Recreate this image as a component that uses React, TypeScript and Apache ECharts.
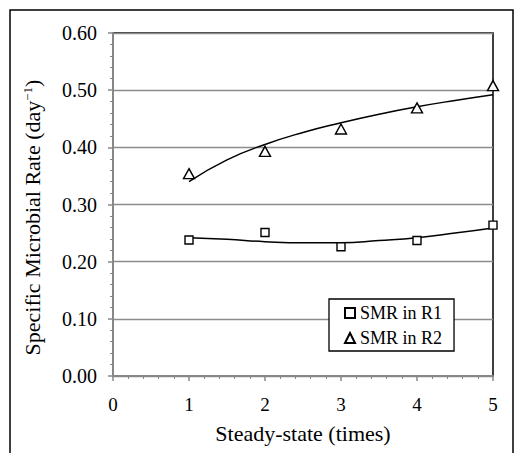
import React, { useEffect, useRef } from "react";
import * as echarts from "echarts";

const xPoints = [1, 2, 3, 4, 5];
const smrR1 = [0.238, 0.251, 0.226, 0.237, 0.264];
const smrR2 = [0.354, 0.393, 0.432, 0.469, 0.508];
const trendX = [1, 1.5, 2, 2.5, 3, 3.5, 4, 4.5, 5];
const trendR1 = [0.242, 0.239, 0.235, 0.233, 0.233, 0.237, 0.242, 0.25, 0.259];
const trendR2 = [0.34, 0.378, 0.405, 0.426, 0.443, 0.458, 0.471, 0.482, 0.492];
const seriesNames = ["SMR in R1", "SMR in R2"];

const FONT = "Liberation Serif";
const AXIS_GRAY = "#878787";

export default function App() {
  const ref = useRef<HTMLDivElement>(null);
  useEffect(() => {
    if (!ref.current) return;
    const chart = echarts.init(ref.current, undefined, { renderer: "svg" });
    const pair = (xs: number[], ys: number[]) => xs.map((x, i) => [x, ys[i]]);
    chart.setOption({
      animation: false,
      backgroundColor: "#fff",
      textStyle: { fontFamily: FONT, color: "#000" },
      grid: {
        left: 113,
        right: 22,
        top: 33,
        bottom: 77,
        show: true,
        borderColor: "#000",
        borderWidth: 1.5,
      },
      graphic: [
        {
          type: "rect",
          shape: { x: 10, y: 10, width: 503, height: 470 },
          style: { fill: "none", stroke: "#000", lineWidth: 1.5 },
          silent: true,
        },
      ],
      legend: {
        data: seriesNames,
        orient: "vertical",
        left: 329,
        top: 299,
        padding: [5, 12, 4, 15],
        itemGap: 7,
        itemWidth: 10,
        itemHeight: 10,
        borderColor: "#000",
        borderWidth: 1.3,
        backgroundColor: "#fff",
        textStyle: { fontFamily: FONT, fontSize: 18, color: "#000" },
      },
      xAxis: {
        type: "value",
        min: 0,
        max: 5,
        interval: 1,
        name: "Steady-state (times)",
        nameLocation: "middle",
        nameGap: 46,
        nameTextStyle: { fontFamily: FONT, fontSize: 22, color: "#000" },
        axisLine: { show: true, lineStyle: { color: AXIS_GRAY, width: 2 } },
        axisTick: { show: true, length: 5, lineStyle: { color: AXIS_GRAY, width: 1.5 } },
        minorTick: { show: true, splitNumber: 5, length: 3, lineStyle: { color: AXIS_GRAY, width: 1 } },
        axisLabel: { fontFamily: FONT, fontSize: 19, color: "#000", margin: 19 },
        splitLine: { show: false },
      },
      yAxis: {
        type: "value",
        min: 0,
        max: 0.6,
        interval: 0.1,
        name: "Specific Microbial Rate (day{sup|−1})",
        nameLocation: "middle",
        nameGap: 70,
        nameTextStyle: {
          fontFamily: FONT,
          fontSize: 22,
          color: "#000",
          padding: [0, 26, 0, 0],
          rich: {
            sup: { fontFamily: FONT, fontSize: 13, color: "#000", verticalAlign: "top", lineHeight: 12 },
          },
        },
        axisLine: { show: true, lineStyle: { color: AXIS_GRAY, width: 2 } },
        axisTick: { show: true, length: 5, lineStyle: { color: AXIS_GRAY, width: 1.5 } },
        minorTick: { show: true, splitNumber: 5, length: 3, lineStyle: { color: AXIS_GRAY, width: 1 } },
        axisLabel: {
          fontFamily: FONT,
          fontSize: 20,
          color: "#000",
          margin: 16,
          formatter: (v: number) => v.toFixed(2),
        },
        splitLine: { show: true, lineStyle: { color: "#8c8c8c", width: 1.3 } },
      },
      series: [
        {
          name: "trend R1",
          type: "line",
          data: pair(trendX, trendR1),
          smooth: true,
          showSymbol: false,
          symbol: "none",
          lineStyle: { color: "#000", width: 1.5 },
          z: 3,
          silent: true,
        },
        {
          name: "trend R2",
          type: "line",
          data: pair(trendX, trendR2),
          smooth: true,
          showSymbol: false,
          symbol: "none",
          lineStyle: { color: "#000", width: 1.5 },
          z: 3,
          silent: true,
        },
        {
          name: seriesNames[0],
          type: "scatter",
          data: pair(xPoints, smrR1),
          symbol: "rect",
          symbolSize: 8,
          itemStyle: { color: "#fff", borderColor: "#000", borderWidth: 1.4, opacity: 1 },
          z: 5,
        },
        {
          name: seriesNames[1],
          type: "scatter",
          data: pair(xPoints, smrR2),
          symbol: "triangle",
          symbolSize: [11, 10],
          itemStyle: { color: "#fff", borderColor: "#000", borderWidth: 1.4, opacity: 1 },
          z: 5,
        },
      ],
    });
    return () => chart.dispose();
  }, []);
  return (
    <div
      ref={ref}
      style={{ position: "absolute", left: 0, top: 0, width: 515, height: 453 }}
    />
  );
}
